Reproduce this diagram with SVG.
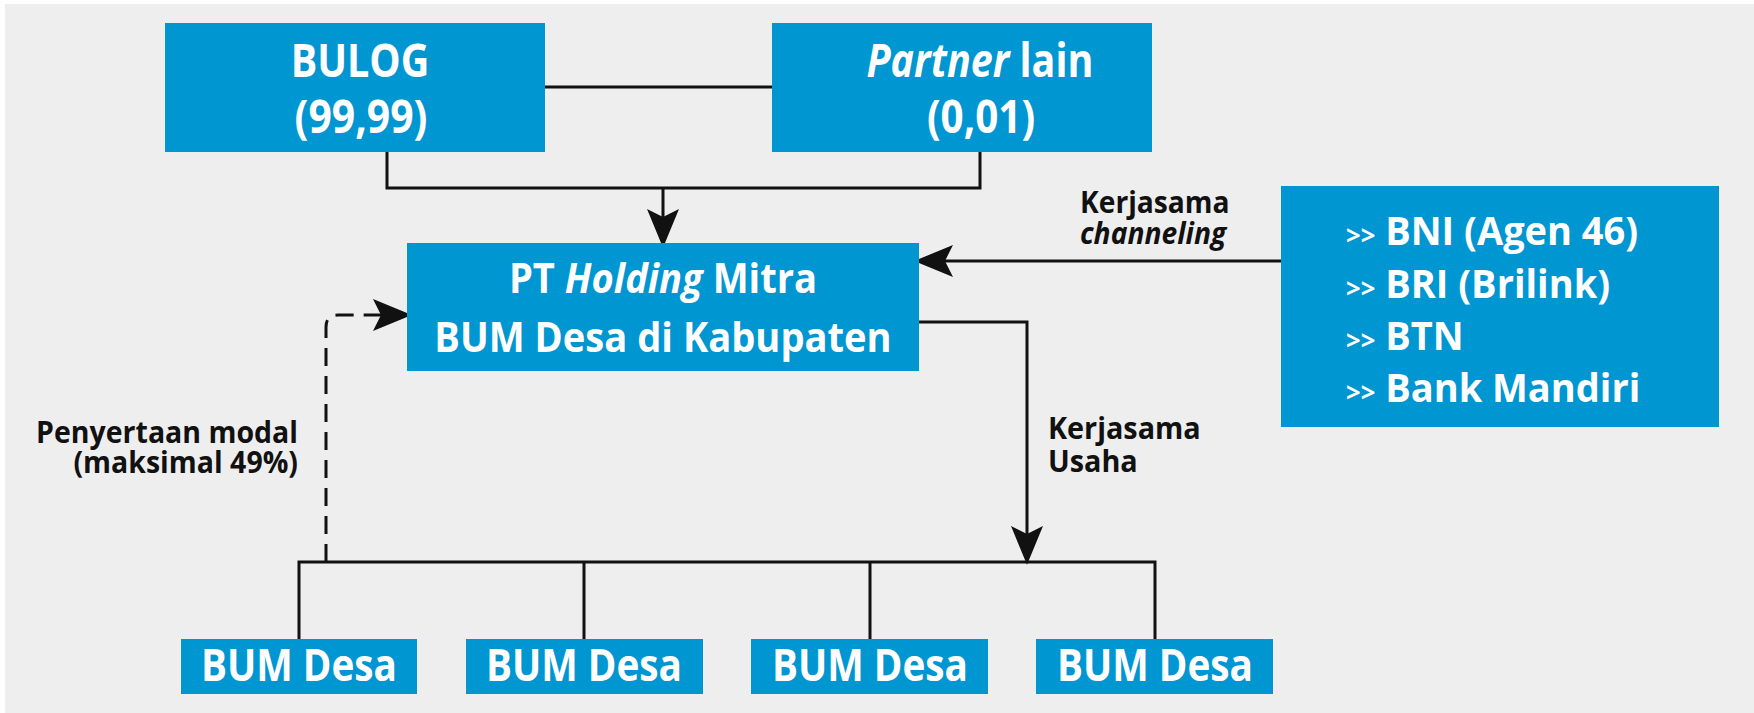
<svg xmlns="http://www.w3.org/2000/svg" width="1754" height="713" viewBox="0 0 1754 713">
  <defs>
    <style>
      .box { fill: #0096D2; }
      .wt { fill: #ffffff; font-family: "Open Sans", "Noto Sans", "Liberation Sans", sans-serif; font-weight: 700; }
      .bt { fill: #111111; font-family: "Open Sans", "Noto Sans", "Liberation Sans", sans-serif; font-weight: 700; }
      .it { font-style: italic; }
      .chev { font-size: 27px; }
      .ln { fill: none; stroke: #111111; stroke-width: 3; }
      .dash { stroke-dasharray: 18 10; }
    </style>
    <marker id="arr" markerUnits="userSpaceOnUse" markerWidth="40" markerHeight="32" viewBox="0 0 34 28" refX="7" refY="14" orient="auto">
      <path d="M0,0 L34,14 L0,28 L7,14 Z" fill="#111111"/>
    </marker>
  </defs>

  <rect x="0" y="0" width="1754" height="713" fill="#ffffff"/>
  <rect x="5" y="4" width="1749" height="709" fill="#EEEEEE"/>

  <g id="connectors">
    <path class="ln" d="M545,87 H772"/>
    <path class="ln" d="M387,152 V188 H980 V152"/>
    <path class="ln" d="M663,188 V217" marker-end="url(#arr)"/>
    <path class="ln" d="M1281,261 H945" marker-end="url(#arr)"/>
    <path class="ln" d="M919,322 H1027 V534" marker-end="url(#arr)"/>
    <path class="ln" d="M299,639 V562 H1155 V639"/>
    <path class="ln" d="M584,562 V639"/>
    <path class="ln" d="M870,562 V639"/>
    <path class="ln dash" d="M326,562 V327 Q326,315 338,315 H381" marker-end="url(#arr)"/>
    <text class="bt" font-size="30" transform="translate(1080,213) scale(0.94,1)"><tspan x="0" y="0">Kerjasama</tspan><tspan class="it" x="0" dy="31">channeling</tspan></text>
    <text class="bt" font-size="30" transform="translate(1048,439) scale(0.96,1)"><tspan x="0" y="0">Kerjasama</tspan><tspan x="0" dy="33">Usaha</tspan></text>
    <text class="bt" font-size="30" text-anchor="end" transform="translate(298,443) scale(0.95,1)"><tspan x="0" y="0">Penyertaan modal</tspan><tspan x="0" dy="30">(maksimal 49%)</tspan></text>
  </g>

  <g id="bulog">
    <rect class="box" x="165" y="23" width="380" height="129"/>
    <text class="wt" font-size="47" text-anchor="middle" transform="translate(360,77) scale(0.84,1)">BULOG</text>
    <text class="wt" font-size="47" text-anchor="middle" transform="translate(361,133) scale(0.87,1)">(99,99)</text>
  </g>

  <g id="partner">
    <rect class="box" x="772" y="23" width="380" height="129"/>
    <text class="wt" font-size="47" text-anchor="middle" transform="translate(980,77) scale(0.84,1)"><tspan class="it">Partner</tspan> lain</text>
    <text class="wt" font-size="47" text-anchor="middle" transform="translate(981,133) scale(0.86,1)">(0,01)</text>
  </g>

  <g id="holding">
    <rect class="box" x="407" y="243" width="512" height="128"/>
    <text class="wt" font-size="41" text-anchor="middle" transform="translate(663,293) scale(0.93,1)">PT <tspan class="it">Holding</tspan> Mitra</text>
    <text class="wt" font-size="41" text-anchor="middle" transform="translate(663,352) scale(0.93,1)">BUM Desa di Kabupaten</text>
  </g>

  <g id="banks">
    <rect class="box" x="1281" y="186" width="438" height="241"/>
    <text class="wt" font-size="40" transform="translate(1346,245) scale(0.95,1)"><tspan class="chev">&gt;&gt;</tspan> BNI (Agen 46)</text>
    <text class="wt" font-size="40" transform="translate(1346,298) scale(0.95,1)"><tspan class="chev">&gt;&gt;</tspan> BRI (Brilink)</text>
    <text class="wt" font-size="40" transform="translate(1346,350) scale(0.95,1)"><tspan class="chev">&gt;&gt;</tspan> BTN</text>
    <text class="wt" font-size="40" transform="translate(1346,402) scale(0.95,1)"><tspan class="chev">&gt;&gt;</tspan> Bank Mandiri</text>
  </g>

  <g id="bumdesa1">
    <rect class="box" x="181" y="639" width="236" height="55"/>
    <text class="wt" font-size="44" text-anchor="middle" transform="translate(299,681) scale(0.88,1)">BUM Desa</text>
  </g>
  <g id="bumdesa2">
    <rect class="box" x="466" y="639" width="237" height="55"/>
    <text class="wt" font-size="44" text-anchor="middle" transform="translate(584,681) scale(0.88,1)">BUM Desa</text>
  </g>
  <g id="bumdesa3">
    <rect class="box" x="751" y="639" width="237" height="55"/>
    <text class="wt" font-size="44" text-anchor="middle" transform="translate(870,681) scale(0.88,1)">BUM Desa</text>
  </g>
  <g id="bumdesa4">
    <rect class="box" x="1036" y="639" width="237" height="55"/>
    <text class="wt" font-size="44" text-anchor="middle" transform="translate(1155,681) scale(0.88,1)">BUM Desa</text>
  </g>
</svg>
